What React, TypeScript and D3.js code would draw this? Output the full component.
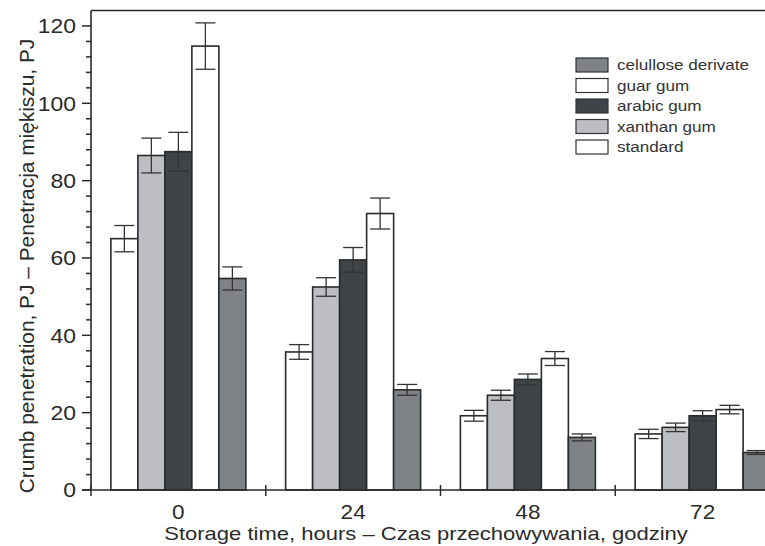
import React from 'react'
import * as d3 from 'd3'

// storage time groups (hours)
const hours = [0, 24, 48, 72]
// bar order inside each group, left to right
const seriesNames = ['standard', 'xanthan gum', 'arabic gum', 'guar gum', 'celullose derivate']
const standardVals = [65, 35.7, 19.2, 14.5]
const xanthanVals = [86.5, 52.5, 24.5, 16.2]
const arabicVals = [87.5, 59.5, 28.6, 19.2]
const guarVals = [114.8, 71.5, 34, 20.8]
const celluloseVals = [54.7, 25.9, 13.6, 9.7]
const standardErr = [3.4, 1.9, 1.4, 1.2]
const xanthanErr = [4.5, 2.4, 1.3, 1.1]
const arabicErr = [5, 3.2, 1.4, 1.3]
const guarErr = [6, 4, 1.8, 1.1]
const celluloseErr = [3, 1.4, 0.9, 0.5]
const yTicks = [0, 20, 40, 60, 80, 100, 120]
const legendOrder = ['celullose derivate', 'guar gum', 'arabic gum', 'xanthan gum', 'standard']

const values = [standardVals, xanthanVals, arabicVals, guarVals, celluloseVals]
const errors = [standardErr, xanthanErr, arabicErr, guarErr, celluloseErr]

const fills: Record<string, string> = {
  'standard': '#ffffff',
  'xanthan gum': '#bdbec2',
  'arabic gum': '#3e4447',
  'guar gum': '#ffffff',
  'celullose derivate': '#7f8386'
}

const W = 765
const H = 546
const FONT = '"Liberation Sans", Arial, sans-serif'
const INK = '#2a2a2a'

// the source picture is a little stretched sideways, so text gets a wider x scale
function Txt(props: any) {
  const {x, y, sx = 1.13, children, ...rest} = props
  return (
    <text transform={`translate(${x},${y}) scale(${sx},1)`} {...rest}>{children}</text>
  )
}

export default function App() {
  const x = d3.scaleLinear().domain([-12, 84]).range([91, 790])
  const y = d3.scaleLinear().domain([0, 124]).range([490, 10.5])
  const inner = d3.scaleBand().domain(seriesNames).range([-67.5, 67.5]).padding(0)
  const bw = inner.bandwidth()

  const minorY = d3.range(0, 121, 4).filter(v => v % 20 !== 0)
  const groupEdges = [-12, 12, 36, 60]

  const bars: any[] = []
  seriesNames.forEach((name, si) => {
    hours.forEach((h, gi) => {
      bars.push({name, h, v: values[si][gi], e: errors[si][gi]})
    })
  })

  return (
    <svg width={W} height={H} style={{position: 'absolute', left: 0, top: 0, background: '#fff'}}
         fontFamily={FONT}>
      <rect width={W} height={H} fill="#fff"/>

      {/* bars */}
      {bars.map((d, i) => {
        const x0 = x(d.h) + (inner(d.name) as number)
        return (
          <rect key={'b' + i} x={x0} y={y(d.v)} width={bw} height={y(0) - y(d.v)}
                fill={fills[d.name]} stroke={INK} strokeWidth={1.6}/>
        )
      })}

      {/* error bars */}
      {bars.map((d, i) => {
        const cx = x(d.h) + (inner(d.name) as number) + bw / 2
        const cap = 10
        return (
          <g key={'e' + i} stroke="#333" strokeWidth={1.3}>
            <line x1={cx} x2={cx} y1={y(d.v + d.e)} y2={y(d.v - d.e)}/>
            <line x1={cx - cap} x2={cx + cap} y1={y(d.v + d.e)} y2={y(d.v + d.e)}/>
            <line x1={cx - cap} x2={cx + cap} y1={y(d.v - d.e)} y2={y(d.v - d.e)}/>
          </g>
        )
      })}

      {/* frame */}
      <line x1={x(-12)} x2={W} y1={y(124)} y2={y(124)} stroke={INK} strokeWidth={1.6}/>
      <line x1={x(-12)} x2={x(-12)} y1={y(124)} y2={y(0)} stroke={INK} strokeWidth={1.6}/>
      <line x1={x(-12) - 9} x2={W} y1={y(0)} y2={y(0)} stroke={INK} strokeWidth={1.6}/>

      {/* y ticks */}
      {yTicks.map(t => (
        <g key={'yt' + t}>
          <line x1={x(-12) - 9} x2={x(-12)} y1={y(t)} y2={y(t)} stroke={INK} strokeWidth={1.5}/>
          <Txt x={x(-12) - 15} y={y(t)} sx={1.12} dy="0.36em" textAnchor="end" fontSize={20.5} fill={INK}>{t}</Txt>
        </g>
      ))}
      {minorY.map(t => (
        <line key={'ym' + t} x1={x(-12) - 5} x2={x(-12)} y1={y(t)} y2={y(t)} stroke={INK} strokeWidth={1.5}/>
      ))}

      {/* x ticks */}
      {groupEdges.map(h => (
        <line key={'xe' + h} x1={x(h)} x2={x(h)} y1={y(0) - 5} y2={y(0) + 6} stroke={INK} strokeWidth={1.5}/>
      ))}
      {hours.map(h => (
        <Txt key={'xl' + h} x={x(h)} y={519} textAnchor="middle" fontSize={20} fill={INK}>{h}</Txt>
      ))}

      {/* axis titles */}
      <Txt x={426} y={540} sx={1.19} textAnchor="middle" fontSize={18.5} fill={INK}>
        Storage time, hours – Czas przechowywania, godziny
      </Txt>
      <text transform={`translate(33.5,${266}) rotate(-90) scale(1.07,1)`} textAnchor="middle" fontSize={19.5} fill={INK}>
        Crumb penetration, PJ – Penetracja miękiszu, PJ
      </text>

      {/* legend */}
      {legendOrder.map((name, i) => (
        <g key={'lg' + name} transform={`translate(576,${58 + i * 20.5})`}>
          <rect x={0} y={0} width={32} height={14} fill={fills[name]} stroke="#333" strokeWidth={1.2}/>
          <Txt x={41} y={7} sx={1.14} dy="0.36em" fontSize={15} fill="#333">{name}</Txt>
        </g>
      ))}
    </svg>
  )
}
